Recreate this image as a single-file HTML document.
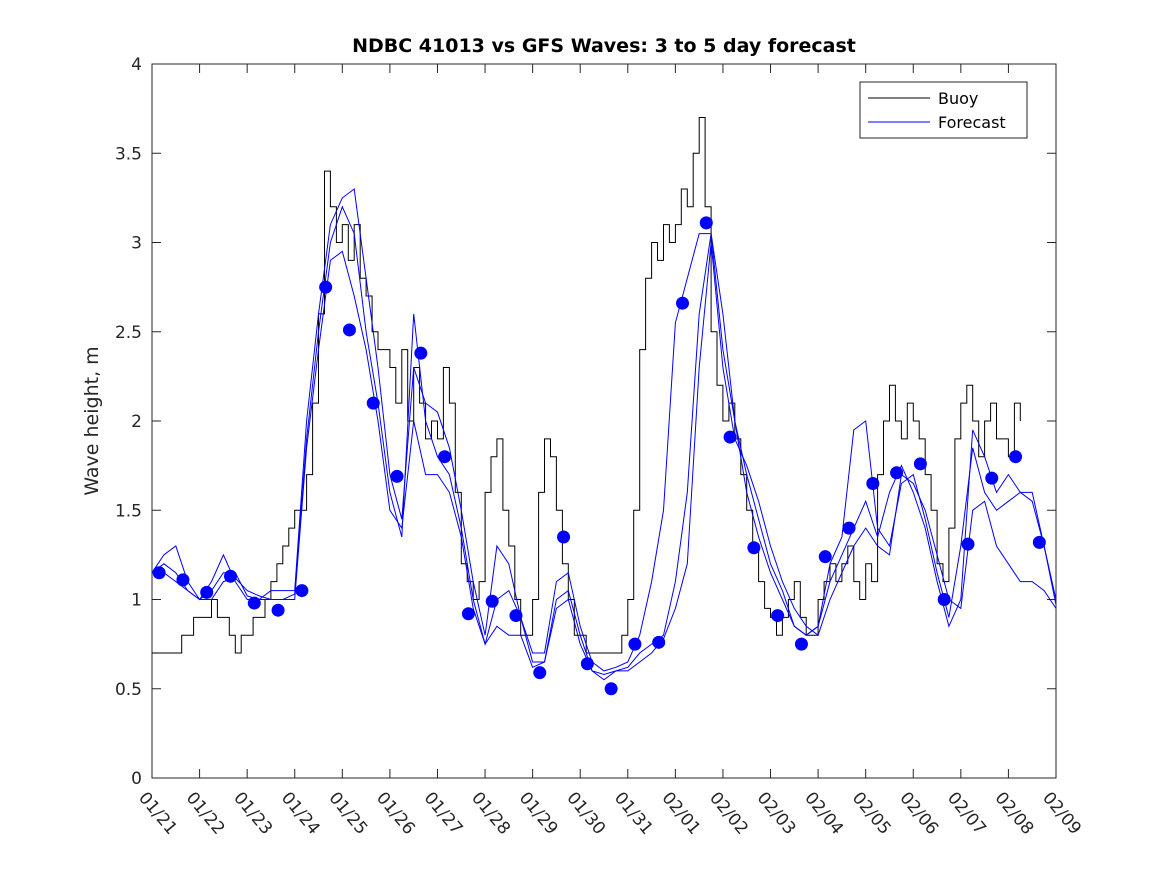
<!DOCTYPE html>
<html><head><meta charset="utf-8">
<style>
body{margin:0;background:#fff;}
svg{display:block;font-family:"DejaVu Sans","Liberation Sans",sans-serif;}
</style></head>
<body>
<svg id="chart" width="1167" height="875" viewBox="0 0 1167 875">
<rect x="0" y="0" width="1167" height="875" fill="#fff"/>
<text x="604" y="52" text-anchor="middle" font-size="19" font-weight="bold" fill="#000">NDBC 41013 vs GFS Waves: 3 to 5 day forecast</text>
<text transform="translate(98,421) rotate(-90)" text-anchor="middle" font-size="19" fill="#262626">Wave height, m</text>
<g id="axes"></g>
<g id="plot"></g>
<g>
<rect x="860" y="82" width="167" height="56" fill="#fff" stroke="#262626" stroke-width="1"/>
<line x1="868" y1="98" x2="930" y2="98" stroke="#000" stroke-width="1"/>
<text x="938" y="104" font-size="16" fill="#000">Buoy</text>
<line x1="868" y1="122" x2="930" y2="122" stroke="#00f" stroke-width="1"/>
<text x="938" y="128" font-size="16" fill="#000">Forecast</text>
</g>
</svg>
<script>
const xTickLabels=["01/21","01/22","01/23","01/24","01/25","01/26","01/27","01/28","01/29","01/30","01/31","02/01","02/02","02/03","02/04","02/05","02/06","02/07","02/08","02/09"];
const yTicks=[0,0.5,1,1.5,2,2.5,3,3.5,4];
const buoyStep=0.125;
const buoy=[
0.7,0.7,0.7,0.7,0.7,0.8,0.8,0.9,
0.9,0.9,1.0,0.9,0.9,0.8,0.7,0.8,
0.8,0.9,0.9,1.0,1.1,1.2,1.3,1.4,
1.5,1.5,1.7,2.1,2.6,3.4,3.2,3.0,
3.1,2.9,3.1,2.8,2.7,2.5,2.4,2.4,
2.3,2.1,2.4,2.0,2.3,2.1,1.9,2.0,
1.9,2.3,2.1,1.6,1.2,1.1,1.0,1.1,
1.6,1.8,1.9,1.5,1.3,1.0,0.8,0.8,
1.0,1.6,1.9,1.8,1.5,1.2,1.0,0.8,
0.8,0.7,0.7,0.7,0.7,0.7,0.7,0.8,
1.0,1.5,2.4,2.8,3.0,2.9,3.1,3.0,
3.1,3.3,3.2,3.5,3.7,3.2,2.5,2.2,
2.0,2.1,1.9,1.7,1.5,1.3,1.1,0.95,
0.9,0.8,0.9,1.0,1.1,0.9,0.8,0.8,
1.0,1.1,1.2,1.1,1.2,1.3,1.1,1.0,
1.2,1.1,1.7,2.0,2.2,2.0,1.9,2.1,
2.0,1.9,1.7,1.5,1.2,1.1,1.4,1.9,
2.1,2.2,2.0,1.8,2.0,2.1,1.9,1.9,
1.8,2.1,2.0];
const fcStep=0.25;
const forecast1=[1.15,1.25,1.3,1.1,1.0,1.1,1.25,1.1,1.0,1.0,1.05,1.05,1.05,2.0,2.6,3.1,3.25,3.3,2.8,2.3,1.7,1.45,2.3,2.1,2.05,1.85,1.5,1.1,0.8,1.3,1.2,0.9,0.7,0.7,1.1,1.15,0.85,0.65,0.6,0.62,0.65,0.8,1.1,1.5,2.55,2.8,3.05,3.05,2.6,2.0,1.6,1.35,1.15,1.0,0.85,0.8,0.85,1.2,1.35,1.95,2.0,1.4,1.3,1.65,1.7,1.45,1.15,0.9,1.3,1.85,1.6,1.5,1.55,1.6,1.6,1.3,0.97];
const forecast2=[1.15,1.15,1.1,1.05,1.0,1.05,1.15,1.15,1.02,1.0,1.0,1.0,1.03,1.9,2.5,3.0,3.2,3.05,2.5,2.1,1.6,1.35,2.6,2.0,1.8,1.7,1.4,1.0,0.75,1.0,1.05,0.9,0.65,0.65,1.0,1.05,0.8,0.6,0.58,0.6,0.62,0.7,0.75,0.8,1.1,1.6,2.6,3.05,2.4,2.0,1.7,1.45,1.2,1.05,0.85,0.8,0.85,1.1,1.25,1.4,1.55,1.35,1.6,1.75,1.6,1.4,1.1,0.85,1.0,1.95,1.8,1.6,1.7,1.6,1.55,1.3,1.0];
const forecast3=[1.15,1.2,1.15,1.05,1.0,1.0,1.1,1.12,1.05,1.02,1.0,1.0,1.0,1.85,2.4,2.9,2.95,2.7,2.4,2.0,1.5,1.4,2.0,1.7,1.7,1.6,1.35,0.95,0.75,0.85,0.8,0.8,0.62,0.65,0.95,1.0,0.75,0.6,0.55,0.6,0.6,0.65,0.7,0.78,0.95,1.2,2.3,3.0,2.3,1.9,1.75,1.55,1.3,1.1,0.95,0.85,0.8,1.0,1.15,1.3,1.4,1.3,1.25,1.7,1.65,1.5,1.25,1.0,0.95,1.5,1.55,1.3,1.2,1.1,1.1,1.05,0.95];
const dotStart=0.15;
const dots=[1.15,1.11,1.04,1.13,0.98,0.94,1.05,2.75,2.51,2.10,1.69,2.38,1.80,0.92,0.99,0.91,0.59,1.35,0.64,0.50,0.75,0.76,2.66,3.11,1.91,1.29,0.91,0.75,1.24,1.40,1.65,1.71,1.76,1.00,1.31,1.68,1.80,1.32];

const L=152,R=1056,T=64,B=778;
const xs=d=>L+(R-L)*d/19;
const ys=v=>B-(B-T)*v/4;
const NS="http://www.w3.org/2000/svg";
function mk(tag,attrs,parent){const e=document.createElementNS(NS,tag);for(const k in attrs)e.setAttribute(k,attrs[k]);parent.appendChild(e);return e;}
const ax=document.getElementById('axes'),pl=document.getElementById('plot');

const frame=mk('rect',{x:L,y:T,width:R-L,height:B-T,fill:'none',stroke:'#262626','stroke-width':1},ax);


yTicks.forEach(v=>{
  const y=ys(v);
  const t1=mk('line',{x1:L,x2:L+9,y1:y,y2:y,stroke:'#262626'},ax);
  
  
  const t2=mk('line',{x1:R-9,x2:R,y1:y,y2:y,stroke:'#262626'},ax);
  
  
  const tx=mk('text',{x:L-10,y:y+6,'text-anchor':'end','font-size':17,fill:'#262626'},ax);
  tx.textContent=String(v);
  
  
});
xTickLabels.forEach((lab,i)=>{
  const x=xs(i);
  const t1=mk('line',{x1:x,x2:x,y1:B,y2:B-9,stroke:'#262626'},ax);
  
  
  const t2=mk('line',{x1:x,x2:x,y1:T,y2:T+9,stroke:'#262626'},ax);
  
  
  const tx=mk('text',{transform:`translate(${x-14},${B+20}) rotate(50)`,'font-size':17,fill:'#262626'},ax);
  tx.textContent=lab;
  
  
});
function line(arr,step,start,color,name){
  const pts=arr.map((v,i)=>xs(start+i*step).toFixed(1)+','+ys(v).toFixed(1)).join(' ');
  const p=mk('polyline',{points:pts,fill:'none',stroke:color,'stroke-width':1},pl);
  
  
}
function stairs(arr,step,start,color,name){
  let d='';
  arr.forEach((v,i)=>{const x=xs(start+i*step).toFixed(1),y=ys(v).toFixed(1);d+=(i?' L'+x+','+ys(arr[i-1]).toFixed(1)+' L':'M')+x+','+y;});
  const p=mk('path',{d:d,fill:'none',stroke:color,'stroke-width':1},pl);
  
  
}
stairs(buoy,buoyStep,0,'#000','buoy-line');
line(forecast1,fcStep,0,'#00f','forecast-line-1');
line(forecast2,fcStep,0,'#00f','forecast-line-2');
line(forecast3,fcStep,0,'#00f','forecast-line-3');
dots.forEach((v,i)=>{
  const c=mk('circle',{cx:xs(dotStart+i*0.5),cy:ys(v),r:6.5,fill:'#00f'},pl);
  
  
});
</script>
</body></html>
